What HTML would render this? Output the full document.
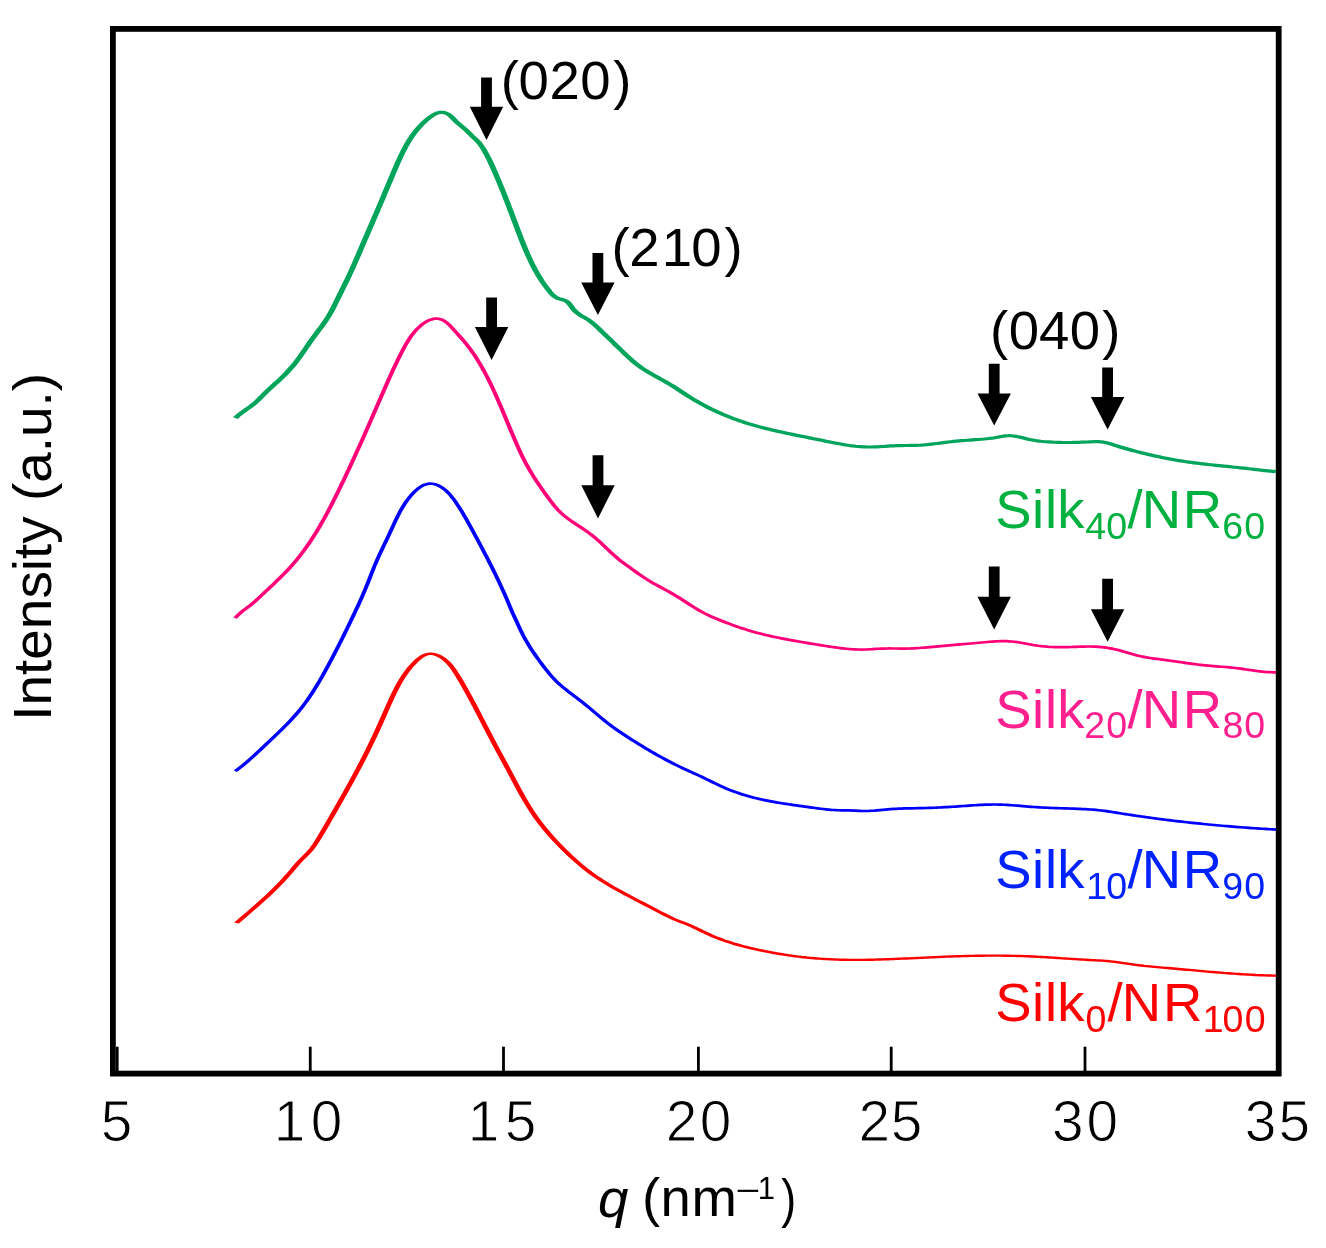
<!DOCTYPE html>
<html><head><meta charset="utf-8"><style>
html,body{margin:0;padding:0;background:#fff;width:1326px;height:1248px;overflow:hidden}
svg{position:absolute;left:0;top:0;display:block;will-change:transform}
text{font-family:"Liberation Sans",sans-serif}
</style></head><body>
<svg width="1326" height="1248" viewBox="0 0 1326 1248">
<g>
<rect x="0" y="0" width="1326" height="1248" fill="#fff"/>
<rect x="112.9" y="28.9" width="1165.8" height="1044.7" fill="none" stroke="#000" stroke-width="5.8"/>
<line x1="117.2" y1="1046.7" x2="117.2" y2="1072" stroke="#000" stroke-width="2.8"/>
<line x1="310.25" y1="1046.7" x2="310.25" y2="1072" stroke="#000" stroke-width="2.8"/>
<line x1="503.5" y1="1046.7" x2="503.5" y2="1072" stroke="#000" stroke-width="2.8"/>
<line x1="698.4" y1="1046.7" x2="698.4" y2="1072" stroke="#000" stroke-width="2.8"/>
<line x1="891.2" y1="1046.7" x2="891.2" y2="1072" stroke="#000" stroke-width="2.8"/>
<line x1="1085.0" y1="1046.7" x2="1085.0" y2="1072" stroke="#000" stroke-width="2.8"/>
<g transform="scale(1.75,1)">
<path d="M134.51,418.11 L135.66,416.21 L136.86,414.44 L138.10,412.77 L139.37,411.16 L140.64,409.59 L141.92,408.03 L143.18,406.44 L144.42,404.79 L145.62,403.06 L146.77,401.24 L147.90,399.35 L149.01,397.42 L150.11,395.47 L151.21,393.52 L152.32,391.59 L153.45,389.71 L154.60,387.87 L155.77,386.05 L156.93,384.23 L158.10,382.40 L159.26,380.55 L160.40,378.67 L161.53,376.76 L162.65,374.83 L163.75,372.87 L164.83,370.88 L165.89,368.86 L166.92,366.80 L167.93,364.70 L168.91,362.57 L169.87,360.41 L170.80,358.21 L171.71,355.99 L172.61,353.75 L173.49,351.50 L174.37,349.23 L175.25,346.97 L176.14,344.71 L177.03,342.45 L177.93,340.21 L178.85,337.99 L179.78,335.79 L180.71,333.59 L181.65,331.40 L182.59,329.20 L183.53,327.01 L184.45,324.79 L185.36,322.56 L186.24,320.31 L187.10,318.03 L187.93,315.71 L188.73,313.35 L189.49,310.96 L190.22,308.53 L190.94,306.08 L191.63,303.61 L192.32,301.14 L193.01,298.68 L193.71,296.22 L194.40,293.77 L195.10,291.33 L195.79,288.89 L196.48,286.44 L197.17,284.00 L197.86,281.55 L198.54,279.09 L199.22,276.62 L199.88,274.15 L200.54,271.66 L201.19,269.15 L201.83,266.64 L202.47,264.12 L203.10,261.60 L203.73,259.07 L204.35,256.54 L204.97,254.02 L205.60,251.49 L206.22,248.97 L206.84,246.46 L207.46,243.94 L208.08,241.43 L208.70,238.92 L209.32,236.41 L209.94,233.90 L210.56,231.39 L211.18,228.88 L211.79,226.37 L212.41,223.87 L213.02,221.36 L213.64,218.85 L214.25,216.35 L214.87,213.84 L215.48,211.33 L216.10,208.82 L216.71,206.31 L217.32,203.80 L217.93,201.29 L218.54,198.78 L219.16,196.26 L219.77,193.74 L220.38,191.22 L220.99,188.69 L221.60,186.17 L222.21,183.64 L222.82,181.10 L223.43,178.57 L224.04,176.03 L224.65,173.48 L225.27,170.94 L225.88,168.40 L226.51,165.86 L227.14,163.33 L227.78,160.81 L228.43,158.30 L229.10,155.81 L229.78,153.33 L230.48,150.88 L231.21,148.46 L231.95,146.06 L232.72,143.69 L233.52,141.35 L234.34,139.05 L235.20,136.79 L236.09,134.58 L237.01,132.40 L237.97,130.28 L238.97,128.20 L240.01,126.18 L241.09,124.21 L242.22,122.30 L243.39,120.45 L244.62,118.67 L245.89,116.96 L247.22,115.35 L248.60,113.96 L250.02,112.91 L251.49,112.31 L253.01,112.29 L254.55,112.92 L256.02,114.12 L257.32,115.75 L258.47,117.64 L259.56,119.63 L260.67,121.55 L261.82,123.37 L263.01,125.13 L264.21,126.87 L265.40,128.63 L266.57,130.45 L267.69,132.36 L268.78,134.32 L269.90,136.25 L271.07,138.10 L272.23,139.95 L273.32,141.91 L274.31,144.01 L275.21,146.23 L276.06,148.52 L276.87,150.85 L277.64,153.22 L278.39,155.62 L279.10,158.05 L279.80,160.51 L280.47,162.99 L281.13,165.48 L281.78,167.98 L282.41,170.49 L283.05,173.00 L283.67,175.52 L284.28,178.04 L284.89,180.56 L285.50,183.09 L286.09,185.63 L286.69,188.17 L287.27,190.71 L287.86,193.25 L288.43,195.80 L289.01,198.35 L289.58,200.90 L290.14,203.45 L290.71,206.01 L291.27,208.56 L291.83,211.12 L292.38,213.68 L292.94,216.24 L293.49,218.80 L294.05,221.37 L294.60,223.93 L295.15,226.49 L295.71,229.05 L296.26,231.61 L296.82,234.17 L297.38,236.73 L297.95,239.28 L298.52,241.83 L299.10,244.37 L299.69,246.90 L300.29,249.42 L300.90,251.94 L301.52,254.44 L302.16,256.93 L302.82,259.41 L303.49,261.87 L304.18,264.32 L304.89,266.75 L305.62,269.17 L306.37,271.57 L307.15,273.94 L307.95,276.30 L308.78,278.63 L309.64,280.94 L310.52,283.23 L311.44,285.49 L312.39,287.72 L313.37,289.93 L314.39,292.11 L315.45,294.20 L316.58,296.08 L317.82,297.60 L319.18,298.62 L320.64,299.28 L322.10,299.94 L323.46,300.95 L324.63,302.54 L325.67,304.56 L326.64,306.82 L327.62,309.10 L328.68,311.21 L329.87,313.03 L331.15,314.61 L332.49,316.04 L333.86,317.40 L335.22,318.79 L336.53,320.29 L337.79,321.91 L339.01,323.63 L340.19,325.43 L341.34,327.28 L342.48,329.16 L343.61,331.06 L344.74,332.96 L345.87,334.86 L346.99,336.76 L348.11,338.65 L349.23,340.55 L350.36,342.45 L351.48,344.35 L352.60,346.25 L353.73,348.15 L354.85,350.05 L355.99,351.95 L357.12,353.85 L358.26,355.74 L359.42,357.62 L360.58,359.47 L361.76,361.28 L362.97,363.04 L364.20,364.74 L365.45,366.37 L366.73,367.94 L368.03,369.45 L369.35,370.91 L370.69,372.33 L372.04,373.72 L373.40,375.08 L374.77,376.42 L376.14,377.75 L377.51,379.07 L378.88,380.40 L380.25,381.75 L381.61,383.11 L382.96,384.50 L384.29,385.92 L385.62,387.37 L386.93,388.85 L388.24,390.35 L389.54,391.86 L390.84,393.36 L392.15,394.86 L393.47,396.34 L394.79,397.79 L396.13,399.22 L397.47,400.61 L398.83,401.99 L400.20,403.33 L401.57,404.65 L402.95,405.94 L404.35,407.20 L405.75,408.43 L407.16,409.64 L408.57,410.82 L410.00,411.97 L411.43,413.09 L412.87,414.19 L414.31,415.25 L415.76,416.29 L417.22,417.30 L418.68,418.29 L420.15,419.24 L421.62,420.17 L423.10,421.06 L424.58,421.93 L426.07,422.78 L427.56,423.59 L429.06,424.38 L430.55,425.15 L432.06,425.90 L433.56,426.62 L435.07,427.33 L436.58,428.01 L438.10,428.68 L439.61,429.33 L441.13,429.96 L442.66,430.58 L444.18,431.19 L445.71,431.79 L447.24,432.37 L448.77,432.95 L450.30,433.51 L451.83,434.07 L453.37,434.62 L454.91,435.17 L456.44,435.71 L457.98,436.25 L459.52,436.79 L461.06,437.33 L462.60,437.87 L464.14,438.40 L465.68,438.95 L467.22,439.49 L468.76,440.05 L470.30,440.60 L471.84,441.16 L473.38,441.71 L474.92,442.26 L476.46,442.80 L478.00,443.32 L479.54,443.82 L481.08,444.30 L482.62,444.76 L484.17,445.18 L485.71,445.57 L487.26,445.92 L488.81,446.23 L490.36,446.49 L491.91,446.70 L493.46,446.86 L495.02,446.96 L496.58,447.00 L498.14,446.98 L499.70,446.90 L501.27,446.79 L502.83,446.64 L504.40,446.47 L505.97,446.30 L507.54,446.12 L509.11,445.95 L510.68,445.80 L512.25,445.68 L513.82,445.60 L515.38,445.54 L516.95,445.51 L518.52,445.48 L520.08,445.46 L521.64,445.42 L523.20,445.36 L524.76,445.27 L526.32,445.14 L527.88,444.95 L529.44,444.72 L530.99,444.44 L532.55,444.13 L534.10,443.79 L535.66,443.44 L537.21,443.08 L538.77,442.72 L540.32,442.37 L541.88,442.04 L543.44,441.73 L545.00,441.44 L546.55,441.17 L548.11,440.92 L549.67,440.68 L551.23,440.46 L552.79,440.25 L554.35,440.05 L555.91,439.85 L557.47,439.66 L559.03,439.47 L560.59,439.26 L562.15,439.04 L563.71,438.77 L565.27,438.46 L566.82,438.10 L568.38,437.67 L569.94,437.18 L571.49,436.69 L573.05,436.25 L574.60,435.91 L576.15,435.72 L577.69,435.73 L579.23,435.97 L580.77,436.39 L582.31,436.95 L583.84,437.58 L585.38,438.25 L586.92,438.91 L588.46,439.51 L590.00,440.03 L591.55,440.48 L593.10,440.88 L594.65,441.21 L596.20,441.50 L597.76,441.74 L599.32,441.94 L600.88,442.11 L602.45,442.25 L604.01,442.35 L605.58,442.43 L607.15,442.48 L608.71,442.50 L610.28,442.50 L611.84,442.48 L613.40,442.44 L614.96,442.38 L616.53,442.30 L618.09,442.21 L619.66,442.10 L621.23,441.98 L622.80,441.85 L624.38,441.72 L625.95,441.65 L627.52,441.66 L629.08,441.81 L630.63,442.14 L632.15,442.68 L633.66,443.39 L635.17,444.21 L636.66,445.07 L638.16,445.91 L639.65,446.72 L641.15,447.51 L642.65,448.27 L644.16,449.02 L645.66,449.75 L647.17,450.47 L648.68,451.17 L650.19,451.86 L651.71,452.54 L653.23,453.20 L654.75,453.84 L656.28,454.47 L657.80,455.09 L659.33,455.69 L660.86,456.28 L662.39,456.85 L663.93,457.41 L665.46,457.95 L667.00,458.47 L668.54,458.98 L670.08,459.48 L671.63,459.95 L673.17,460.41 L674.72,460.86 L676.26,461.28 L677.81,461.69 L679.36,462.08 L680.91,462.46 L682.46,462.82 L684.01,463.17 L685.57,463.51 L687.12,463.83 L688.67,464.15 L690.23,464.45 L691.78,464.75 L693.34,465.04 L694.90,465.32 L696.45,465.60 L698.01,465.88 L699.57,466.16 L701.12,466.43 L702.68,466.70 L704.24,466.98 L705.80,467.25 L707.35,467.54 L708.91,467.82 L710.47,468.11 L712.02,468.41 L713.58,468.71 L715.14,469.03 L716.69,469.35 L718.24,469.68 L719.80,470.00 L721.35,470.32 L722.91,470.62 L724.47,470.91 L726.02,471.18 L727.58,471.42 L729.14,471.64" fill="none" stroke="#00A45A" stroke-width="3.2" stroke-linejoin="round" stroke-linecap="butt"/>
</g>
<g transform="scale(1.55,1)">
<path d="M151.73,618.17 L152.91,616.10 L154.18,614.19 L155.50,612.41 L156.86,610.72 L158.25,609.08 L159.64,607.47 L161.03,605.84 L162.40,604.16 L163.74,602.42 L165.05,600.62 L166.34,598.79 L167.63,596.93 L168.91,595.07 L170.19,593.21 L171.48,591.35 L172.76,589.49 L174.05,587.63 L175.33,585.76 L176.60,583.89 L177.88,582.01 L179.14,580.12 L180.40,578.22 L181.65,576.31 L182.89,574.38 L184.11,572.43 L185.33,570.47 L186.52,568.48 L187.71,566.47 L188.87,564.44 L190.02,562.38 L191.14,560.30 L192.25,558.19 L193.35,556.06 L194.42,553.91 L195.48,551.74 L196.52,549.55 L197.55,547.33 L198.56,545.10 L199.56,542.86 L200.54,540.59 L201.50,538.31 L202.46,536.02 L203.40,533.71 L204.32,531.39 L205.23,529.06 L206.13,526.71 L207.02,524.35 L207.89,521.99 L208.75,519.61 L209.60,517.23 L210.44,514.84 L211.28,512.44 L212.10,510.03 L212.91,507.62 L213.72,505.20 L214.52,502.78 L215.31,500.35 L216.10,497.92 L216.89,495.48 L217.66,493.04 L218.44,490.60 L219.21,488.16 L219.98,485.71 L220.74,483.26 L221.50,480.81 L222.26,478.36 L223.01,475.90 L223.76,473.44 L224.51,470.98 L225.25,468.52 L225.99,466.05 L226.73,463.58 L227.47,461.12 L228.20,458.64 L228.93,456.17 L229.66,453.70 L230.39,451.22 L231.11,448.74 L231.83,446.26 L232.55,443.78 L233.27,441.29 L233.99,438.81 L234.70,436.32 L235.41,433.83 L236.12,431.34 L236.83,428.85 L237.54,426.36 L238.25,423.86 L238.96,421.37 L239.66,418.87 L240.37,416.37 L241.07,413.87 L241.78,411.37 L242.48,408.87 L243.18,406.37 L243.88,403.87 L244.58,401.37 L245.29,398.86 L245.99,396.36 L246.69,393.85 L247.39,391.35 L248.10,388.85 L248.81,386.35 L249.52,383.85 L250.23,381.35 L250.95,378.87 L251.67,376.38 L252.40,373.90 L253.13,371.43 L253.87,368.96 L254.62,366.50 L255.37,364.05 L256.13,361.61 L256.89,359.17 L257.67,356.75 L258.45,354.33 L259.25,351.93 L260.05,349.54 L260.87,347.16 L261.71,344.81 L262.58,342.48 L263.49,340.18 L264.45,337.92 L265.46,335.70 L266.53,333.53 L267.67,331.42 L268.89,329.36 L270.19,327.37 L271.58,325.46 L273.05,323.69 L274.58,322.09 L276.16,320.73 L277.77,319.66 L279.41,318.94 L281.05,318.61 L282.68,318.72 L284.27,319.26 L285.79,320.23 L287.23,321.57 L288.61,323.21 L289.93,325.08 L291.21,327.11 L292.46,329.22 L293.69,331.34 L294.90,333.43 L296.10,335.48 L297.28,337.51 L298.43,339.54 L299.57,341.60 L300.67,343.69 L301.75,345.81 L302.81,347.96 L303.84,350.14 L304.85,352.34 L305.84,354.57 L306.81,356.83 L307.75,359.10 L308.68,361.40 L309.58,363.73 L310.47,366.07 L311.34,368.43 L312.19,370.80 L313.03,373.20 L313.85,375.61 L314.66,378.03 L315.45,380.46 L316.23,382.91 L316.99,385.37 L317.75,387.84 L318.49,390.31 L319.23,392.79 L319.95,395.28 L320.67,397.77 L321.37,400.27 L322.07,402.77 L322.77,405.27 L323.45,407.77 L324.14,410.28 L324.82,412.79 L325.50,415.30 L326.17,417.81 L326.84,420.32 L327.52,422.83 L328.19,425.34 L328.87,427.86 L329.54,430.37 L330.22,432.88 L330.91,435.38 L331.60,437.89 L332.29,440.39 L332.99,442.89 L333.70,445.39 L334.42,447.88 L335.15,450.36 L335.89,452.83 L336.65,455.29 L337.42,457.73 L338.21,460.16 L339.02,462.58 L339.85,464.97 L340.70,467.35 L341.57,469.71 L342.47,472.04 L343.38,474.37 L344.30,476.67 L345.25,478.96 L346.21,481.24 L347.19,483.50 L348.17,485.76 L349.17,488.00 L350.18,490.24 L351.21,492.46 L352.23,494.68 L353.27,496.90 L354.32,499.10 L355.37,501.29 L356.45,503.45 L357.55,505.58 L358.69,507.65 L359.85,509.67 L361.06,511.61 L362.32,513.48 L363.63,515.27 L364.98,516.98 L366.37,518.63 L367.79,520.22 L369.23,521.78 L370.69,523.30 L372.17,524.81 L373.65,526.30 L375.13,527.80 L376.61,529.31 L378.07,530.85 L379.51,532.42 L380.93,534.03 L382.32,535.71 L383.67,537.43 L385.00,539.20 L386.32,541.00 L387.61,542.84 L388.89,544.69 L390.17,546.56 L391.44,548.44 L392.71,550.31 L393.99,552.17 L395.28,554.01 L396.58,555.82 L397.91,557.61 L399.25,559.34 L400.62,561.03 L402.02,562.67 L403.44,564.28 L404.87,565.87 L406.30,567.46 L407.73,569.06 L409.15,570.66 L410.57,572.26 L412.00,573.84 L413.44,575.39 L414.90,576.91 L416.37,578.40 L417.85,579.85 L419.35,581.27 L420.86,582.64 L422.39,583.99 L423.92,585.31 L425.46,586.61 L427.01,587.90 L428.56,589.19 L430.10,590.49 L431.64,591.80 L433.17,593.14 L434.69,594.51 L436.19,595.91 L437.69,597.34 L439.18,598.80 L440.66,600.27 L442.14,601.75 L443.62,603.23 L445.10,604.70 L446.58,606.16 L448.07,607.60 L449.57,609.01 L451.08,610.38 L452.61,611.72 L454.16,613.00 L455.72,614.23 L457.30,615.41 L458.90,616.54 L460.51,617.64 L462.13,618.71 L463.75,619.75 L465.39,620.76 L467.03,621.76 L468.67,622.74 L470.32,623.71 L471.97,624.65 L473.62,625.58 L475.29,626.48 L476.95,627.36 L478.62,628.22 L480.29,629.06 L481.97,629.88 L483.65,630.67 L485.34,631.44 L487.03,632.18 L488.72,632.89 L490.42,633.58 L492.12,634.25 L493.82,634.90 L495.53,635.52 L497.24,636.12 L498.95,636.70 L500.66,637.27 L502.38,637.82 L504.10,638.35 L505.83,638.88 L507.55,639.38 L509.28,639.88 L511.01,640.36 L512.74,640.84 L514.47,641.31 L516.20,641.77 L517.93,642.23 L519.67,642.68 L521.41,643.13 L523.14,643.57 L524.88,644.02 L526.62,644.46 L528.36,644.91 L530.09,645.36 L531.83,645.80 L533.57,646.23 L535.31,646.65 L537.05,647.05 L538.79,647.44 L540.53,647.80 L542.28,648.14 L544.02,648.45 L545.77,648.73 L547.51,648.97 L549.26,649.18 L551.01,649.34 L552.76,649.46 L554.51,649.52 L556.26,649.54 L558.01,649.50 L559.77,649.40 L561.53,649.26 L563.28,649.09 L565.04,648.92 L566.80,648.76 L568.56,648.63 L570.32,648.54 L572.07,648.49 L573.83,648.47 L575.59,648.48 L577.34,648.50 L579.10,648.52 L580.85,648.54 L582.60,648.55 L584.36,648.53 L586.11,648.49 L587.87,648.42 L589.62,648.30 L591.38,648.15 L593.13,647.98 L594.88,647.78 L596.64,647.57 L598.39,647.34 L600.14,647.10 L601.90,646.85 L603.65,646.61 L605.40,646.36 L607.15,646.12 L608.90,645.88 L610.64,645.64 L612.39,645.40 L614.14,645.16 L615.89,644.93 L617.63,644.69 L619.38,644.45 L621.13,644.21 L622.88,643.97 L624.63,643.72 L626.38,643.48 L628.13,643.23 L629.88,642.98 L631.63,642.73 L633.38,642.47 L635.14,642.22 L636.89,641.98 L638.64,641.76 L640.40,641.56 L642.15,641.40 L643.90,641.27 L645.66,641.19 L647.41,641.16 L649.16,641.20 L650.90,641.30 L652.65,641.47 L654.39,641.73 L656.13,642.07 L657.87,642.48 L659.60,642.95 L661.34,643.44 L663.08,643.95 L664.81,644.46 L666.55,644.94 L668.29,645.39 L670.03,645.78 L671.77,646.12 L673.52,646.41 L675.26,646.66 L677.01,646.86 L678.77,647.01 L680.52,647.12 L682.27,647.18 L684.03,647.21 L685.79,647.19 L687.55,647.14 L689.31,647.07 L691.07,646.98 L692.83,646.88 L694.59,646.78 L696.35,646.69 L698.11,646.61 L699.87,646.55 L701.62,646.52 L703.38,646.52 L705.13,646.57 L706.89,646.67 L708.64,646.82 L710.38,647.04 L712.13,647.33 L713.87,647.69 L715.60,648.13 L717.33,648.63 L719.05,649.19 L720.77,649.81 L722.48,650.49 L724.18,651.21 L725.87,651.98 L727.56,652.77 L729.24,653.56 L730.93,654.33 L732.62,655.05 L734.32,655.71 L736.03,656.31 L737.75,656.84 L739.47,657.33 L741.20,657.78 L742.94,658.19 L744.68,658.57 L746.42,658.94 L748.17,659.30 L749.91,659.65 L751.66,660.01 L753.40,660.38 L755.15,660.75 L756.89,661.14 L758.63,661.53 L760.37,661.91 L762.11,662.30 L763.85,662.69 L765.59,663.07 L767.33,663.44 L769.07,663.81 L770.81,664.16 L772.55,664.50 L774.29,664.83 L776.04,665.13 L777.78,665.42 L779.53,665.68 L781.28,665.92 L783.03,666.15 L784.78,666.36 L786.53,666.57 L788.28,666.78 L790.04,666.99 L791.79,667.21 L793.54,667.46 L795.28,667.72 L797.03,668.01 L798.77,668.33 L800.51,668.69 L802.25,669.06 L803.99,669.45 L805.73,669.84 L807.47,670.23 L809.21,670.61 L810.95,670.97 L812.69,671.30 L814.44,671.60 L816.19,671.86 L817.94,672.07 L819.70,672.21 L821.46,672.30 L823.23,672.30" fill="none" stroke="#FF0078" stroke-width="2.7" stroke-linejoin="round" stroke-linecap="butt"/>
</g>
<g transform="scale(1.5,1)">
<path d="M156.80,771.21 L158.26,769.59 L159.69,767.94 L161.11,766.26 L162.51,764.55 L163.90,762.82 L165.26,761.07 L166.62,759.29 L167.97,757.51 L169.30,755.70 L170.63,753.88 L171.95,752.05 L173.26,750.21 L174.57,748.36 L175.88,746.50 L177.19,744.64 L178.50,742.78 L179.81,740.92 L181.12,739.05 L182.43,737.19 L183.74,735.32 L185.05,733.45 L186.35,731.56 L187.64,729.67 L188.93,727.77 L190.21,725.86 L191.48,723.93 L192.73,721.99 L193.97,720.02 L195.20,718.04 L196.40,716.04 L197.59,714.01 L198.76,711.96 L199.91,709.89 L201.03,707.79 L202.14,705.66 L203.22,703.50 L204.28,701.32 L205.32,699.12 L206.34,696.90 L207.35,694.66 L208.34,692.40 L209.31,690.13 L210.27,687.83 L211.21,685.53 L212.15,683.20 L213.06,680.87 L213.97,678.52 L214.87,676.17 L215.76,673.80 L216.63,671.43 L217.50,669.05 L218.37,666.67 L219.22,664.28 L220.07,661.89 L220.92,659.50 L221.76,657.11 L222.60,654.71 L223.43,652.31 L224.26,649.91 L225.08,647.51 L225.90,645.10 L226.72,642.69 L227.53,640.28 L228.33,637.87 L229.14,635.45 L229.93,633.03 L230.73,630.61 L231.52,628.19 L232.31,625.76 L233.09,623.33 L233.87,620.90 L234.65,618.46 L235.43,616.02 L236.20,613.58 L236.97,611.14 L237.73,608.69 L238.49,606.23 L239.25,603.78 L239.99,601.32 L240.74,598.85 L241.47,596.37 L242.19,593.89 L242.90,591.41 L243.60,588.91 L244.29,586.41 L244.97,583.90 L245.63,581.38 L246.29,578.86 L246.94,576.33 L247.59,573.81 L248.24,571.29 L248.91,568.78 L249.59,566.27 L250.28,563.78 L251.00,561.30 L251.73,558.84 L252.47,556.38 L253.23,553.93 L253.99,551.48 L254.77,549.04 L255.54,546.61 L256.32,544.17 L257.11,541.73 L257.89,539.30 L258.66,536.85 L259.43,534.41 L260.20,531.95 L260.95,529.49 L261.71,527.03 L262.46,524.57 L263.22,522.11 L264.00,519.66 L264.78,517.23 L265.59,514.81 L266.42,512.42 L267.29,510.05 L268.18,507.71 L269.12,505.41 L270.10,503.14 L271.13,500.92 L272.21,498.74 L273.35,496.62 L274.56,494.54 L275.83,492.53 L277.17,490.59 L278.58,488.76 L280.07,487.11 L281.62,485.72 L283.24,484.64 L284.91,483.93 L286.61,483.62 L288.32,483.73 L290.01,484.24 L291.66,485.11 L293.28,486.29 L294.84,487.73 L296.32,489.38 L297.73,491.19 L299.04,493.13 L300.27,495.17 L301.43,497.28 L302.54,499.46 L303.60,501.69 L304.62,503.94 L305.62,506.20 L306.60,508.48 L307.55,510.78 L308.48,513.09 L309.40,515.41 L310.30,517.74 L311.19,520.08 L312.06,522.43 L312.93,524.79 L313.80,527.15 L314.66,529.52 L315.52,531.88 L316.37,534.26 L317.23,536.63 L318.09,539.01 L318.94,541.39 L319.79,543.77 L320.64,546.16 L321.48,548.55 L322.32,550.94 L323.16,553.34 L324.00,555.74 L324.83,558.15 L325.65,560.55 L326.47,562.97 L327.29,565.38 L328.10,567.80 L328.91,570.23 L329.70,572.65 L330.50,575.09 L331.28,577.52 L332.06,579.96 L332.83,582.41 L333.60,584.86 L334.35,587.31 L335.10,589.77 L335.84,592.24 L336.57,594.71 L337.29,597.18 L338.00,599.66 L338.71,602.14 L339.40,604.63 L340.10,607.12 L340.80,609.60 L341.51,612.08 L342.24,614.55 L342.99,617.01 L343.75,619.47 L344.51,621.92 L345.27,624.38 L346.03,626.84 L346.79,629.30 L347.57,631.74 L348.37,634.17 L349.20,636.57 L350.06,638.94 L350.95,641.28 L351.86,643.60 L352.80,645.90 L353.77,648.17 L354.75,650.43 L355.75,652.66 L356.77,654.89 L357.81,657.09 L358.86,659.29 L359.92,661.47 L361.00,663.64 L362.09,665.80 L363.19,667.95 L364.31,670.09 L365.44,672.21 L366.59,674.30 L367.77,676.35 L368.98,678.35 L370.23,680.30 L371.51,682.18 L372.83,684.00 L374.18,685.78 L375.55,687.52 L376.95,689.23 L378.36,690.91 L379.78,692.56 L381.22,694.20 L382.66,695.84 L384.10,697.47 L385.55,699.10 L386.98,700.75 L388.41,702.41 L389.82,704.09 L391.22,705.80 L392.61,707.52 L393.99,709.26 L395.37,711.01 L396.75,712.76 L398.12,714.50 L399.50,716.24 L400.88,717.98 L402.27,719.69 L403.67,721.39 L405.08,723.06 L406.50,724.71 L407.94,726.32 L409.40,727.91 L410.87,729.47 L412.35,731.01 L413.84,732.52 L415.34,734.02 L416.85,735.51 L418.36,736.98 L419.88,738.45 L421.40,739.90 L422.93,741.35 L424.46,742.78 L425.99,744.21 L427.53,745.62 L429.07,747.03 L430.61,748.42 L432.16,749.80 L433.72,751.17 L435.28,752.53 L436.84,753.87 L438.41,755.20 L439.98,756.51 L441.56,757.81 L443.15,759.10 L444.74,760.37 L446.33,761.62 L447.94,762.86 L449.54,764.08 L451.16,765.28 L452.78,766.47 L454.41,767.64 L456.04,768.78 L457.68,769.92 L459.32,771.04 L460.96,772.15 L462.61,773.27 L464.25,774.38 L465.89,775.51 L467.52,776.65 L469.15,777.81 L470.77,779.00 L472.39,780.19 L474.00,781.40 L475.62,782.60 L477.24,783.78 L478.86,784.95 L480.50,786.09 L482.14,787.19 L483.80,788.26 L485.47,789.29 L487.15,790.29 L488.83,791.25 L490.53,792.17 L492.23,793.06 L493.94,793.92 L495.66,794.74 L497.39,795.53 L499.12,796.28 L500.86,797.00 L502.60,797.68 L504.35,798.33 L506.10,798.95 L507.86,799.54 L509.62,800.11 L511.39,800.65 L513.16,801.16 L514.93,801.66 L516.70,802.14 L518.48,802.59 L520.26,803.03 L522.04,803.46 L523.83,803.88 L525.61,804.28 L527.40,804.67 L529.19,805.06 L530.97,805.44 L532.76,805.82 L534.55,806.19 L536.34,806.56 L538.13,806.94 L539.91,807.31 L541.70,807.68 L543.49,808.04 L545.27,808.39 L547.06,808.72 L548.85,809.03 L550.64,809.32 L552.43,809.57 L554.22,809.80 L556.01,809.98 L557.81,810.13 L559.61,810.23 L561.41,810.29 L563.21,810.34 L565.01,810.39 L566.81,810.47 L568.61,810.58 L570.41,810.71 L572.21,810.84 L574.01,810.95 L575.80,811.00 L577.60,810.99 L579.39,810.90 L581.19,810.75 L582.98,810.56 L584.78,810.32 L586.57,810.07 L588.37,809.80 L590.16,809.55 L591.96,809.31 L593.76,809.10 L595.56,808.93 L597.36,808.78 L599.16,808.65 L600.96,808.55 L602.77,808.46 L604.57,808.39 L606.37,808.33 L608.18,808.28 L609.98,808.23 L611.78,808.18 L613.59,808.13 L615.39,808.07 L617.19,808.01 L619.00,807.93 L620.80,807.83 L622.60,807.73 L624.40,807.61 L626.20,807.48 L628.00,807.35 L629.80,807.20 L631.60,807.05 L633.40,806.89 L635.20,806.72 L637.00,806.55 L638.80,806.37 L640.60,806.19 L642.40,806.01 L644.20,805.82 L646.00,805.64 L647.81,805.45 L649.61,805.28 L651.41,805.11 L653.21,804.96 L655.02,804.83 L656.82,804.71 L658.62,804.62 L660.42,804.55 L662.22,804.52 L664.03,804.51 L665.83,804.55 L667.63,804.62 L669.43,804.73 L671.22,804.88 L673.02,805.05 L674.82,805.26 L676.62,805.48 L678.42,805.71 L680.21,805.94 L682.01,806.18 L683.81,806.42 L685.61,806.64 L687.41,806.85 L689.20,807.03 L691.00,807.21 L692.80,807.36 L694.60,807.51 L696.41,807.64 L698.21,807.76 L700.01,807.88 L701.81,807.98 L703.61,808.08 L705.41,808.17 L707.22,808.26 L709.02,808.35 L710.82,808.43 L712.63,808.52 L714.43,808.60 L716.24,808.69 L718.04,808.79 L719.84,808.91 L721.64,809.03 L723.45,809.17 L725.25,809.33 L727.04,809.51 L728.84,809.71 L730.64,809.94 L732.43,810.21 L734.22,810.50 L736.01,810.83 L737.79,811.19 L739.57,811.58 L741.35,811.99 L743.13,812.41 L744.91,812.83 L746.69,813.26 L748.47,813.69 L750.26,814.10 L752.04,814.52 L753.82,814.92 L755.60,815.33 L757.39,815.72 L759.17,816.12 L760.95,816.50 L762.74,816.88 L764.53,817.26 L766.31,817.63 L768.10,818.00 L769.89,818.36 L771.67,818.71 L773.46,819.06 L775.25,819.40 L777.04,819.74 L778.83,820.08 L780.62,820.41 L782.41,820.73 L784.20,821.05 L785.99,821.37 L787.78,821.67 L789.57,821.98 L791.37,822.28 L793.16,822.57 L794.95,822.86 L796.75,823.15 L798.54,823.43 L800.33,823.70 L802.13,823.97 L803.92,824.24 L805.72,824.50 L807.51,824.76 L809.31,825.01 L811.10,825.25 L812.90,825.50 L814.70,825.73 L816.49,825.97 L818.29,826.20 L820.09,826.42 L821.88,826.64 L823.68,826.85 L825.48,827.06 L827.28,827.27 L829.08,827.47 L830.87,827.67 L832.67,827.86 L834.47,828.05 L836.27,828.24 L838.07,828.41 L839.87,828.59 L841.67,828.76 L843.47,828.93 L845.26,829.09 L847.06,829.25 L848.86,829.40 L850.66,829.55" fill="none" stroke="#0000FF" stroke-width="2.7" stroke-linejoin="round" stroke-linecap="butt"/>
</g>
<g transform="scale(2.15,1)">
<path d="M109.95,923.00 L110.89,921.30 L111.83,919.59 L112.77,917.88 L113.71,916.17 L114.64,914.46 L115.58,912.74 L116.51,911.02 L117.44,909.29 L118.37,907.55 L119.30,905.81 L120.22,904.06 L121.14,902.30 L122.05,900.53 L122.96,898.76 L123.87,896.97 L124.77,895.16 L125.66,893.35 L126.55,891.52 L127.43,889.68 L128.30,887.82 L129.17,885.95 L130.03,884.06 L130.88,882.16 L131.72,880.23 L132.55,878.29 L133.38,876.33 L134.19,874.34 L134.99,872.34 L135.79,870.32 L136.58,868.29 L137.38,866.27 L138.18,864.27 L139.01,862.30 L139.85,860.39 L140.72,858.51 L141.59,856.65 L142.46,854.78 L143.32,852.89 L144.14,850.95 L144.94,848.94 L145.68,846.85 L146.40,844.69 L147.08,842.48 L147.74,840.24 L148.39,837.98 L149.03,835.72 L149.67,833.45 L150.30,831.18 L150.92,828.90 L151.54,826.62 L152.15,824.33 L152.76,822.05 L153.38,819.76 L153.99,817.47 L154.60,815.18 L155.21,812.89 L155.82,810.59 L156.43,808.30 L157.04,806.00 L157.64,803.70 L158.25,801.41 L158.86,799.10 L159.47,796.80 L160.07,794.50 L160.67,792.19 L161.27,789.88 L161.87,787.57 L162.47,785.26 L163.07,782.94 L163.66,780.62 L164.25,778.30 L164.84,775.98 L165.42,773.65 L166.00,771.32 L166.58,768.99 L167.16,766.65 L167.73,764.31 L168.29,761.97 L168.86,759.62 L169.42,757.27 L169.97,754.91 L170.52,752.56 L171.07,750.19 L171.61,747.83 L172.15,745.46 L172.69,743.09 L173.22,740.71 L173.75,738.33 L174.28,735.94 L174.80,733.55 L175.32,731.15 L175.83,728.75 L176.35,726.35 L176.85,723.94 L177.36,721.53 L177.86,719.11 L178.36,716.69 L178.85,714.26 L179.35,711.84 L179.85,709.42 L180.35,706.99 L180.85,704.58 L181.36,702.16 L181.87,699.76 L182.38,697.36 L182.91,694.97 L183.44,692.60 L183.99,690.24 L184.55,687.90 L185.12,685.57 L185.72,683.27 L186.33,681.00 L186.96,678.74 L187.62,676.52 L188.31,674.33 L189.02,672.18 L189.77,670.05 L190.54,667.97 L191.35,665.93 L192.20,663.93 L193.09,661.98 L194.01,660.10 L194.98,658.36 L195.98,656.80 L197.02,655.50 L198.10,654.51 L199.20,653.89 L200.34,653.69 L201.51,653.95 L202.69,654.61 L203.86,655.62 L205.01,656.92 L206.12,658.47 L207.16,660.20 L208.14,662.07 L209.02,664.02 L209.81,666.03 L210.54,668.09 L211.22,670.19 L211.87,672.33 L212.51,674.50 L213.14,676.70 L213.77,678.93 L214.40,681.17 L215.02,683.44 L215.63,685.73 L216.24,688.04 L216.85,690.35 L217.45,692.68 L218.05,695.02 L218.64,697.37 L219.23,699.71 L219.82,702.06 L220.40,704.41 L220.98,706.76 L221.55,709.11 L222.12,711.46 L222.69,713.81 L223.26,716.16 L223.82,718.50 L224.39,720.85 L224.95,723.19 L225.51,725.54 L226.08,727.88 L226.64,730.22 L227.20,732.55 L227.77,734.89 L228.33,737.22 L228.90,739.56 L229.47,741.89 L230.05,744.21 L230.63,746.54 L231.21,748.86 L231.79,751.18 L232.38,753.49 L232.96,755.81 L233.55,758.13 L234.14,760.45 L234.73,762.77 L235.31,765.10 L235.90,767.43 L236.48,769.76 L237.06,772.10 L237.63,774.44 L238.21,776.79 L238.78,779.13 L239.36,781.47 L239.94,783.81 L240.52,786.14 L241.10,788.47 L241.69,790.80 L242.29,793.12 L242.89,795.42 L243.50,797.72 L244.11,800.01 L244.74,802.28 L245.37,804.54 L246.01,806.79 L246.67,809.02 L247.34,811.23 L248.02,813.43 L248.71,815.60 L249.42,817.76 L250.14,819.89 L250.88,822.00 L251.63,824.10 L252.39,826.17 L253.16,828.23 L253.95,830.27 L254.74,832.28 L255.55,834.29 L256.36,836.27 L257.19,838.24 L258.02,840.18 L258.86,842.12 L259.71,844.03 L260.57,845.93 L261.43,847.82 L262.30,849.69 L263.18,851.54 L264.06,853.38 L264.95,855.21 L265.84,857.01 L266.75,858.80 L267.66,860.57 L268.58,862.31 L269.50,864.04 L270.44,865.73 L271.39,867.40 L272.35,869.05 L273.32,870.66 L274.31,872.24 L275.30,873.80 L276.30,875.33 L277.32,876.83 L278.34,878.30 L279.37,879.75 L280.40,881.17 L281.45,882.57 L282.49,883.95 L283.55,885.31 L284.61,886.65 L285.67,887.97 L286.74,889.27 L287.81,890.56 L288.88,891.83 L289.96,893.09 L291.05,894.34 L292.13,895.58 L293.22,896.82 L294.31,898.04 L295.40,899.26 L296.49,900.48 L297.58,901.69 L298.67,902.90 L299.77,904.11 L300.86,905.33 L301.95,906.54 L303.05,907.76 L304.14,908.99 L305.23,910.22 L306.32,911.45 L307.41,912.68 L308.50,913.89 L309.60,915.09 L310.70,916.26 L311.81,917.40 L312.92,918.51 L314.04,919.56 L315.18,920.57 L316.32,921.54 L317.47,922.48 L318.61,923.43 L319.75,924.41 L320.89,925.43 L322.01,926.50 L323.13,927.61 L324.24,928.74 L325.36,929.89 L326.47,931.05 L327.58,932.20 L328.69,933.34 L329.81,934.45 L330.93,935.53 L332.06,936.57 L333.19,937.58 L334.33,938.54 L335.48,939.47 L336.63,940.37 L337.79,941.23 L338.96,942.07 L340.12,942.87 L341.30,943.64 L342.47,944.38 L343.66,945.10 L344.84,945.80 L346.03,946.47 L347.22,947.11 L348.42,947.74 L349.61,948.35 L350.81,948.94 L352.02,949.51 L353.22,950.07 L354.42,950.61 L355.63,951.14 L356.84,951.65 L358.05,952.15 L359.26,952.63 L360.47,953.10 L361.69,953.56 L362.90,954.00 L364.12,954.42 L365.34,954.83 L366.55,955.23 L367.77,955.60 L368.99,955.97 L370.21,956.31 L371.44,956.64 L372.66,956.96 L373.88,957.25 L375.10,957.54 L376.33,957.80 L377.55,958.05 L378.78,958.28 L380.00,958.49 L381.23,958.69 L382.45,958.87 L383.68,959.03 L384.91,959.18 L386.13,959.31 L387.36,959.43 L388.59,959.53 L389.81,959.62 L391.04,959.69 L392.27,959.76 L393.49,959.80 L394.72,959.84 L395.95,959.87 L397.18,959.88 L398.41,959.88 L399.64,959.87 L400.86,959.86 L402.09,959.83 L403.32,959.79 L404.55,959.75 L405.78,959.69 L407.01,959.63 L408.24,959.56 L409.47,959.49 L410.70,959.40 L411.93,959.32 L413.16,959.22 L414.39,959.12 L415.62,959.02 L416.85,958.91 L418.08,958.80 L419.31,958.68 L420.54,958.57 L421.77,958.45 L423.00,958.32 L424.23,958.20 L425.46,958.07 L426.69,957.95 L427.92,957.82 L429.15,957.70 L430.37,957.57 L431.60,957.45 L432.83,957.33 L434.06,957.21 L435.29,957.09 L436.52,956.97 L437.75,956.86 L438.98,956.75 L440.21,956.65 L441.44,956.55 L442.67,956.45 L443.90,956.36 L445.13,956.28 L446.36,956.19 L447.59,956.12 L448.81,956.04 L450.04,955.98 L451.27,955.92 L452.50,955.86 L453.73,955.81 L454.96,955.77 L456.19,955.73 L457.41,955.70 L458.64,955.67 L459.87,955.65 L461.10,955.64 L462.33,955.64 L463.56,955.64 L464.78,955.65 L466.01,955.67 L467.24,955.70 L468.47,955.73 L469.70,955.78 L470.92,955.83 L472.15,955.89 L473.38,955.96 L474.61,956.03 L475.84,956.12 L477.07,956.22 L478.29,956.32 L479.52,956.44 L480.75,956.56 L481.98,956.69 L483.21,956.83 L484.44,956.98 L485.66,957.14 L486.89,957.29 L488.12,957.46 L489.35,957.63 L490.58,957.80 L491.81,957.97 L493.03,958.14 L494.26,958.32 L495.49,958.49 L496.72,958.67 L497.95,958.84 L499.18,959.01 L500.40,959.18 L501.63,959.34 L502.86,959.50 L504.09,959.65 L505.32,959.80 L506.54,959.94 L507.77,960.07 L509.00,960.20 L510.22,960.33 L511.45,960.47 L512.68,960.64 L513.90,960.82 L515.12,961.04 L516.35,961.30 L517.57,961.60 L518.79,961.93 L520.01,962.28 L521.22,962.65 L522.44,963.03 L523.66,963.42 L524.88,963.81 L526.10,964.19 L527.31,964.56 L528.53,964.91 L529.75,965.24 L530.98,965.54 L532.20,965.84 L533.42,966.11 L534.64,966.38 L535.87,966.63 L537.09,966.87 L538.32,967.11 L539.54,967.34 L540.76,967.57 L541.99,967.81 L543.21,968.04 L544.44,968.27 L545.66,968.51 L546.89,968.75 L548.11,968.98 L549.34,969.22 L550.56,969.46 L551.79,969.70 L553.01,969.94 L554.23,970.18 L555.46,970.42 L556.68,970.65 L557.91,970.89 L559.13,971.12 L560.36,971.35 L561.58,971.58 L562.81,971.81 L564.03,972.03 L565.26,972.25 L566.48,972.47 L567.71,972.68 L568.93,972.89 L570.16,973.09 L571.39,973.29 L572.61,973.48 L573.84,973.67 L575.06,973.85 L576.29,974.03 L577.52,974.20 L578.74,974.36 L579.97,974.52 L581.20,974.67 L582.43,974.81 L583.66,974.94 L584.88,975.07 L586.11,975.18 L587.34,975.29 L588.57,975.39 L589.80,975.48 L591.03,975.56 L592.26,975.62 L593.49,975.68" fill="none" stroke="#FF0000" stroke-width="2.4" stroke-linejoin="round" stroke-linecap="butt"/>
</g>
<path d="M481.1,77.4 L491.9,77.4 L491.9,106.8 L503.2,106.8 L486.5,140.1 L469.8,106.8 L481.1,106.8 Z" fill="#000"/>
<path d="M592.5,253.0 L603.3,253.0 L603.3,282.4 L614.6,282.4 L597.9,315.0 L581.2,282.4 L592.5,282.4 Z" fill="#000"/>
<path d="M486.2,297.6 L497.0,297.6 L497.0,327.1 L508.3,327.1 L491.6,360.1 L474.9,327.1 L486.2,327.1 Z" fill="#000"/>
<path d="M592.6,455.3 L603.4,455.3 L603.4,485.3 L614.7,485.3 L598.0,518.4 L581.3,485.3 L592.6,485.3 Z" fill="#000"/>
<path d="M988.8,363.8 L999.6,363.8 L999.6,393.4 L1010.9,393.4 L994.2,425.6 L977.5,393.4 L988.8,393.4 Z" fill="#000"/>
<path d="M1102.2,367.5 L1113.0,367.5 L1113.0,397.0 L1124.3,397.0 L1107.6,429.6 L1090.9,397.0 L1102.2,397.0 Z" fill="#000"/>
<path d="M988.8,566.5 L999.6,566.5 L999.6,596.7 L1010.9,596.7 L994.2,629.6 L977.5,596.7 L988.8,596.7 Z" fill="#000"/>
<path d="M1102.2,578.7 L1113.0,578.7 L1113.0,609.2 L1124.3,609.2 L1107.6,641.8 L1090.9,609.2 L1102.2,609.2 Z" fill="#000"/>
<text transform="translate(597.96,1216.50) scale(1.0035,1)" style="font-size:54.5px;font-style:italic;" fill="#000" >q</text>
<text transform="translate(735.21,1200.50) scale(1.3678,1)" style="font-size:31px;" fill="#000" >−</text>
<text transform="translate(781.34,1216.50) scale(0.8235,1)" style="font-size:54.5px;" fill="#000" >)</text>
<text x="100.71" y="1140.50" style="font-size:56.8px;" fill="#000" stroke="#fff" stroke-width="1.0">5</text>
<text x="273.73 310.71" y="1140.50" style="font-size:56.8px;" fill="#000" stroke="#fff" stroke-width="1.0">10</text>
<text x="467.63 504.66" y="1140.50" style="font-size:56.8px;" fill="#000" stroke="#fff" stroke-width="1.0">15</text>
<text x="665.71 699.71" y="1140.50" style="font-size:56.8px;" fill="#000" stroke="#fff" stroke-width="1.0">20</text>
<text x="858.51 890.76" y="1140.50" style="font-size:56.8px;" fill="#000" stroke="#fff" stroke-width="1.0">25</text>
<text x="1052.07 1086.41" y="1140.50" style="font-size:56.8px;" fill="#000" stroke="#fff" stroke-width="1.0">30</text>
<text x="1244.87 1278.46" y="1140.50" style="font-size:56.8px;" fill="#000" stroke="#fff" stroke-width="1.0">35</text>
<text x="500.72 518.47 549.56 580.37 613.28" y="98.80" style="font-size:54.5px;" fill="#000">(020)</text>
<text x="611.52 629.26 661.75 691.17 724.38" y="265.90" style="font-size:54.5px;" fill="#000">(210)</text>
<text x="989.92 1008.77 1039.05 1069.77 1102.28" y="348.70" style="font-size:54.5px;" fill="#000">(040)</text>
<text x="995.33 1032.05 1044.93 1057.13" y="528.10" style="font-size:54.5px;" fill="#00B140">Silk</text>
<text x="1085.24 1106.14" y="538.90" style="font-size:37.5px;" fill="#00B140">40</text>
<text x="1127.40 1141.73 1182.83" y="528.10" style="font-size:54.5px;" fill="#00B140">/NR</text>
<text x="1222.20 1244.14" y="538.90" style="font-size:37.5px;" fill="#00B140">60</text>
<text x="995.33 1032.05 1044.93 1057.13" y="727.60" style="font-size:54.5px;" fill="#FF2090">Silk</text>
<text x="1084.21 1106.14" y="738.40" style="font-size:37.5px;" fill="#FF2090">20</text>
<text x="1127.40 1141.73 1182.83" y="727.60" style="font-size:54.5px;" fill="#FF2090">/NR</text>
<text x="1222.47 1244.14" y="738.40" style="font-size:37.5px;" fill="#FF2090">80</text>
<text x="995.33 1032.05 1044.93 1057.13" y="888.00" style="font-size:54.5px;" fill="#0022FF">Silk</text>
<text x="1086.14 1106.14" y="898.80" style="font-size:37.5px;" fill="#0022FF">10</text>
<text x="1127.40 1141.73 1182.83" y="888.00" style="font-size:54.5px;" fill="#0022FF">/NR</text>
<text x="1222.34 1244.14" y="898.80" style="font-size:37.5px;" fill="#0022FF">90</text>
<text x="995.33 1032.05 1044.93 1057.13" y="1021.00" style="font-size:54.5px;" fill="#FF0000">Silk</text>
<text x="1085.44" y="1031.80" style="font-size:37.5px;" fill="#FF0000">0</text>
<text x="1107.50 1121.83 1162.93" y="1021.00" style="font-size:54.5px;" fill="#FF0000">/NR</text>
<text x="1202.84 1222.44 1244.64" y="1031.80" style="font-size:37.5px;" fill="#FF0000">100</text>
<text x="641.92 660.48 691.48" y="1216.30" style="font-size:54.5px;" fill="#000">(nm</text>
<text x="757.76" y="1199.20" style="font-size:31px;" fill="#000">1</text>
<text transform="translate(51.00,720.67) rotate(-90) scale(1.0071,1)" style="font-size:54.5px" fill="#000">Intensity (a.u.)</text>
</g>
</svg>
</body></html>
